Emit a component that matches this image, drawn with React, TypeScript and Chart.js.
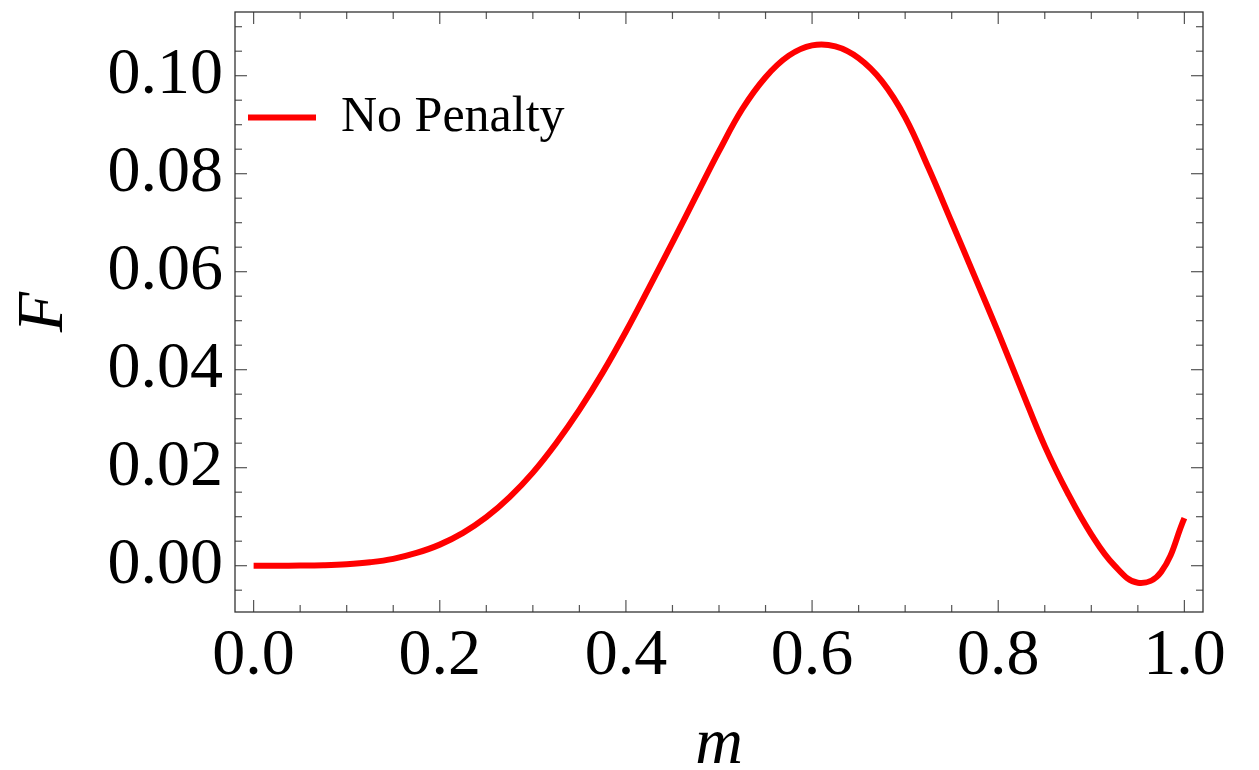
import React, { useEffect, useRef } from 'react';
import { Chart, registerables } from 'chart.js';

Chart.register(...registerables);

// ---- data ----
const M = [
  0.0, 0.025, 0.05, 0.075, 0.1, 0.125, 0.15, 0.175, 0.2, 0.225,
  0.25, 0.275, 0.3, 0.325, 0.35, 0.375, 0.4, 0.425, 0.45, 0.475,
  0.5, 0.525, 0.55, 0.575, 0.6, 0.625, 0.65, 0.675, 0.7, 0.725,
  0.75, 0.775, 0.8, 0.825, 0.85, 0.875, 0.9, 0.925, 0.95, 0.975, 1.0,
];
const F = [
  0.0, 0.0, 0.00002, 0.0001, 0.0003, 0.0007, 0.0014, 0.0026, 0.0043, 0.0067,
  0.0099, 0.014, 0.019, 0.025, 0.0318, 0.0394, 0.0478, 0.0568, 0.066, 0.0753,
  0.0846, 0.0932, 0.0997, 0.1041, 0.1062, 0.106, 0.1036, 0.0989, 0.0915, 0.0812,
  0.0701, 0.0589, 0.0476, 0.0359, 0.0244, 0.0147, 0.0064, 0.0, -0.0035, -0.0013, 0.0097,
];
const SERIES_LABEL = 'No Penalty';
const X_TITLE = 'm';
const Y_TITLE = 'F';
const X_TICKS = [0, 0.2, 0.4, 0.6, 0.8, 1.0];
const Y_TICKS = [0, 0.02, 0.04, 0.06, 0.08, 0.1];
const X_MINOR = [0.05, 0.1, 0.15, 0.25, 0.3, 0.35, 0.45, 0.5, 0.55, 0.65, 0.7, 0.75, 0.85, 0.9, 0.95];
const Y_MINOR = [-0.005, 0.005, 0.01, 0.015, 0.025, 0.03, 0.035, 0.045, 0.05, 0.055, 0.065, 0.07, 0.075, 0.085, 0.09, 0.095, 0.105, 0.11];
const X_RANGE = [-0.02, 1.02];
const Y_RANGE = [-0.00945, 0.113];

const SERIF = "'Liberation Serif', 'Times New Roman', serif";

const frameTicks = {
  id: 'frameTicks',
  afterDraw(chart: any) {
    const { ctx, chartArea } = chart;
    const { left, right, top, bottom } = chartArea;
    const xs = chart.scales.x;
    const ys = chart.scales.y;
    ctx.save();
    ctx.strokeStyle = '#555';
    ctx.lineWidth = 1.2;
    const seg = (x1: number, y1: number, x2: number, y2: number) => {
      ctx.beginPath();
      ctx.moveTo(x1, y1);
      ctx.lineTo(x2, y2);
      ctx.stroke();
    };
    X_TICKS.forEach((v) => {
      const p = xs.getPixelForValue(v);
      seg(p, bottom, p, bottom - 12);
      seg(p, top, p, top + 12);
    });
    X_MINOR.forEach((v) => {
      const p = xs.getPixelForValue(v);
      seg(p, bottom, p, bottom - 7);
      seg(p, top, p, top + 7);
    });
    Y_TICKS.forEach((v) => {
      const p = ys.getPixelForValue(v);
      seg(left, p, left + 12, p);
      seg(right, p, right - 12, p);
    });
    Y_MINOR.forEach((v) => {
      const p = ys.getPixelForValue(v);
      seg(left, p, left + 7, p);
      seg(right, p, right - 7, p);
    });
    ctx.strokeStyle = '#333';
    ctx.lineWidth = 1.3;
    ctx.strokeRect(left, top, right - left, bottom - top);
    ctx.restore();
  },
};

export default function App() {
  const ref = useRef<HTMLCanvasElement | null>(null);

  useEffect(() => {
    if (!ref.current) return;
    const chart = new Chart(ref.current, {
      type: 'scatter',
      data: {
        datasets: [
          {
            label: SERIES_LABEL,
            data: M.map((m, i) => ({ x: m, y: F[i] })),
            showLine: true,
            borderColor: '#ff0000',
            backgroundColor: '#ff0000',
            borderWidth: 6,
            pointRadius: 0,
            pointHoverRadius: 0,
            tension: 0.4,
            fill: false,
          } as any,
        ],
      },
      options: {
        responsive: false,
        animation: false,
        devicePixelRatio: 1,
        layout: { padding: { left: 0, top: 12, right: 56, bottom: 0 } },
        plugins: {
          tooltip: { enabled: false },
          legend: {
            display: true,
            position: 'chartArea' as any,
            align: 'start',
            title: {
              display: true,
              text: ' ',
              padding: { top: 0, bottom: 65 },
              font: { size: 12, lineHeight: 1.2 },
            },
            labels: {
              usePointStyle: true,
              pointStyle: 'line',
              pointStyleWidth: 68,
              boxHeight: 50,
              padding: 13,
              color: '#000',
              font: { family: SERIF, size: 50 },
            },
          },
        },
        scales: {
          x: {
            type: 'linear',
            min: X_RANGE[0],
            max: X_RANGE[1],
            afterBuildTicks: (s: any) => {
              s.ticks = X_TICKS.map((v) => ({ value: v }));
            },
            afterFit: (s: any) => {
              s.height = 158;
              s.paddingLeft = 0;
              s.paddingRight = 0;
            },
            grid: { display: false, drawTicks: false },
            border: { display: false },
            ticks: {
              padding: 5,
              color: '#000',
              font: { family: SERIF, size: 66 },
              maxRotation: 0,
              autoSkip: false,
              callback: (v: any) => Number(v).toFixed(1),
            },
            title: {
              display: true,
              text: X_TITLE,
              color: '#000',
              padding: { top: 0, bottom: 0 },
              font: { family: SERIF, size: 66, style: 'italic', lineHeight: 0.75 },
            },
          },
          y: {
            type: 'linear',
            min: Y_RANGE[0],
            max: Y_RANGE[1],
            afterBuildTicks: (s: any) => {
              s.ticks = Y_TICKS.map((v) => ({ value: v }));
            },
            afterFit: (s: any) => {
              s.width = 235;
              s.paddingTop = 0;
              s.paddingBottom = 0;
            },
            grid: { display: false, drawTicks: false },
            border: { display: false },
            ticks: {
              padding: 12,
              color: '#000',
              font: { family: SERIF, size: 66 },
              autoSkip: false,
              callback: (v: any) => Number(v).toFixed(2),
            },
            title: {
              display: true,
              text: Y_TITLE,
              color: '#000',
              padding: { top: 18, bottom: 0 },
              font: { family: SERIF, size: 66, style: 'italic', lineHeight: 0.8 },
            },
          },
        },
      },
      plugins: [frameTicks],
    });
    return () => chart.destroy();
  }, []);

  return (
    <div style={{ position: 'absolute', left: 0, top: 0, width: 1259, height: 770, background: '#fff' }}>
      <canvas ref={ref} width={1259} height={770} />
    </div>
  );
}
